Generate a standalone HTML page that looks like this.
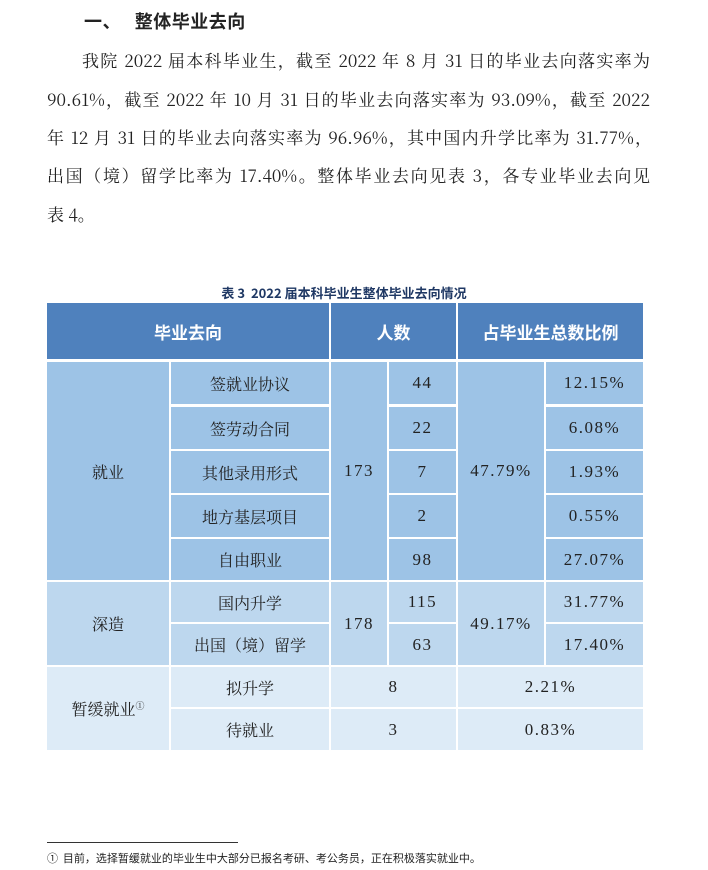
<!DOCTYPE html>
<html><head><meta charset="utf-8"><style>
body{margin:0;background:#fff;width:708px;height:870px;position:relative;overflow:hidden;font-family:"Noto Serif CJK SC","Liberation Serif",serif;color:#222}
.a{position:absolute;white-space:nowrap}
.ln{position:absolute;font-size:17px;line-height:20px;text-align:justify;text-align-last:justify;white-space:nowrap}
.c{position:absolute;display:flex;align-items:center;justify-content:center;font-size:16px;color:#222}
.n{font-family:"Liberation Serif",serif;letter-spacing:1.5px;font-size:17px}
.h{background:#4f81bd;color:#fff;font-family:"Noto Sans CJK SC","Liberation Sans",sans-serif;font-weight:bold;font-size:17px}
.e{background:#9dc3e6}.s{background:#bdd7ee}.d{background:#ddebf7}
</style></head><body>
<div class="a" style="left:84px;top:8px;font-size:18px;letter-spacing:0.5px;font-weight:bold;font-family:'Noto Sans CJK SC',sans-serif;">一、&nbsp;&nbsp;&nbsp;整体毕业去向</div>
<div class="ln" style="left:82px;top:50px;width:568px">我院 2022 届本科毕业生，截至 2022 年 8 月 31 日的毕业去向落实率为</div>
<div class="ln" style="left:47px;top:89px;width:603px">90.61%，截至 2022 年 10 月 31 日的毕业去向落实率为 93.09%，截至 2022</div>
<div class="ln" style="left:47px;top:127px;width:605px">年 12 月 31 日的毕业去向落实率为 96.96%，其中国内升学比率为 31.77%，</div>
<div class="ln" style="left:47px;top:165px;width:603px">出国（境）留学比率为 17.40%。整体毕业去向见表 3，各专业毕业去向见</div>
<div class="a" style="left:47px;top:204px;font-size:17px;line-height:20px">表 4。</div>
<div class="a" style="left:0;width:688px;text-align:center;top:283px;font-size:13px;font-weight:bold;color:#1f3864;font-family:'Noto Sans CJK SC',sans-serif">表 3&nbsp; 2022 届本科毕业生整体毕业去向情况</div>

<div class="c h" style="left:47px;top:303px;width:282px;height:56px">毕业去向</div>
<div class="c h" style="left:331px;top:303px;width:125px;height:56px">人数</div>
<div class="c h" style="left:458px;top:303px;width:185px;height:56px">占毕业生总数比例</div>

<div class="c e" style="left:47px;top:362px;width:122px;height:218px">就业</div>
<div class="c e" style="left:171px;top:362px;width:158px;height:42px">签就业协议</div>
<div class="c e" style="left:171px;top:407px;width:158px;height:42px">签劳动合同</div>
<div class="c e" style="left:171px;top:451px;width:158px;height:42px">其他录用形式</div>
<div class="c e" style="left:171px;top:495px;width:158px;height:42px">地方基层项目</div>
<div class="c e" style="left:171px;top:539px;width:158px;height:41px">自由职业</div>
<div class="c e n" style="left:331px;top:362px;width:56px;height:218px">173</div>
<div class="c e n" style="left:389px;top:362px;width:67px;height:42px">44</div>
<div class="c e n" style="left:389px;top:407px;width:67px;height:42px">22</div>
<div class="c e n" style="left:389px;top:451px;width:67px;height:42px">7</div>
<div class="c e n" style="left:389px;top:495px;width:67px;height:42px">2</div>
<div class="c e n" style="left:389px;top:539px;width:67px;height:41px">98</div>
<div class="c e n" style="left:458px;top:362px;width:86px;height:218px">47.79%</div>
<div class="c e n" style="left:546px;top:362px;width:97px;height:42px">12.15%</div>
<div class="c e n" style="left:546px;top:407px;width:97px;height:42px">6.08%</div>
<div class="c e n" style="left:546px;top:451px;width:97px;height:42px">1.93%</div>
<div class="c e n" style="left:546px;top:495px;width:97px;height:42px">0.55%</div>
<div class="c e n" style="left:546px;top:539px;width:97px;height:41px">27.07%</div>

<div class="c s" style="left:47px;top:582px;width:122px;height:83px">深造</div>
<div class="c s" style="left:171px;top:582px;width:158px;height:40px">国内升学</div>
<div class="c s" style="left:171px;top:624px;width:158px;height:41px">出国（境）留学</div>
<div class="c s n" style="left:331px;top:582px;width:56px;height:83px">178</div>
<div class="c s n" style="left:389px;top:582px;width:67px;height:40px">115</div>
<div class="c s n" style="left:389px;top:624px;width:67px;height:41px">63</div>
<div class="c s n" style="left:458px;top:582px;width:86px;height:83px">49.17%</div>
<div class="c s n" style="left:546px;top:582px;width:97px;height:40px">31.77%</div>
<div class="c s n" style="left:546px;top:624px;width:97px;height:41px">17.40%</div>

<div class="c d" style="left:47px;top:667px;width:122px;height:83px">暂缓就业<sup style="font-size:9px;position:relative;top:-3px">①</sup></div>
<div class="c d" style="left:171px;top:667px;width:158px;height:40px">拟升学</div>
<div class="c d" style="left:171px;top:709px;width:158px;height:41px">待就业</div>
<div class="c d n" style="left:331px;top:667px;width:125px;height:40px">8</div>
<div class="c d n" style="left:331px;top:709px;width:125px;height:41px">3</div>
<div class="c d n" style="left:458px;top:667px;width:185px;height:40px">2.21%</div>
<div class="c d n" style="left:458px;top:709px;width:185px;height:41px">0.83%</div>

<div class="a" style="left:47px;top:842px;width:191px;height:1px;background:#333"></div>
<div class="a" style="left:47px;top:850px;font-size:11px;font-family:'Noto Sans CJK SC',sans-serif">①&nbsp; 目前，选择暂缓就业的毕业生中大部分已报名考研、考公务员，正在积极落实就业中。</div>
</body></html>
